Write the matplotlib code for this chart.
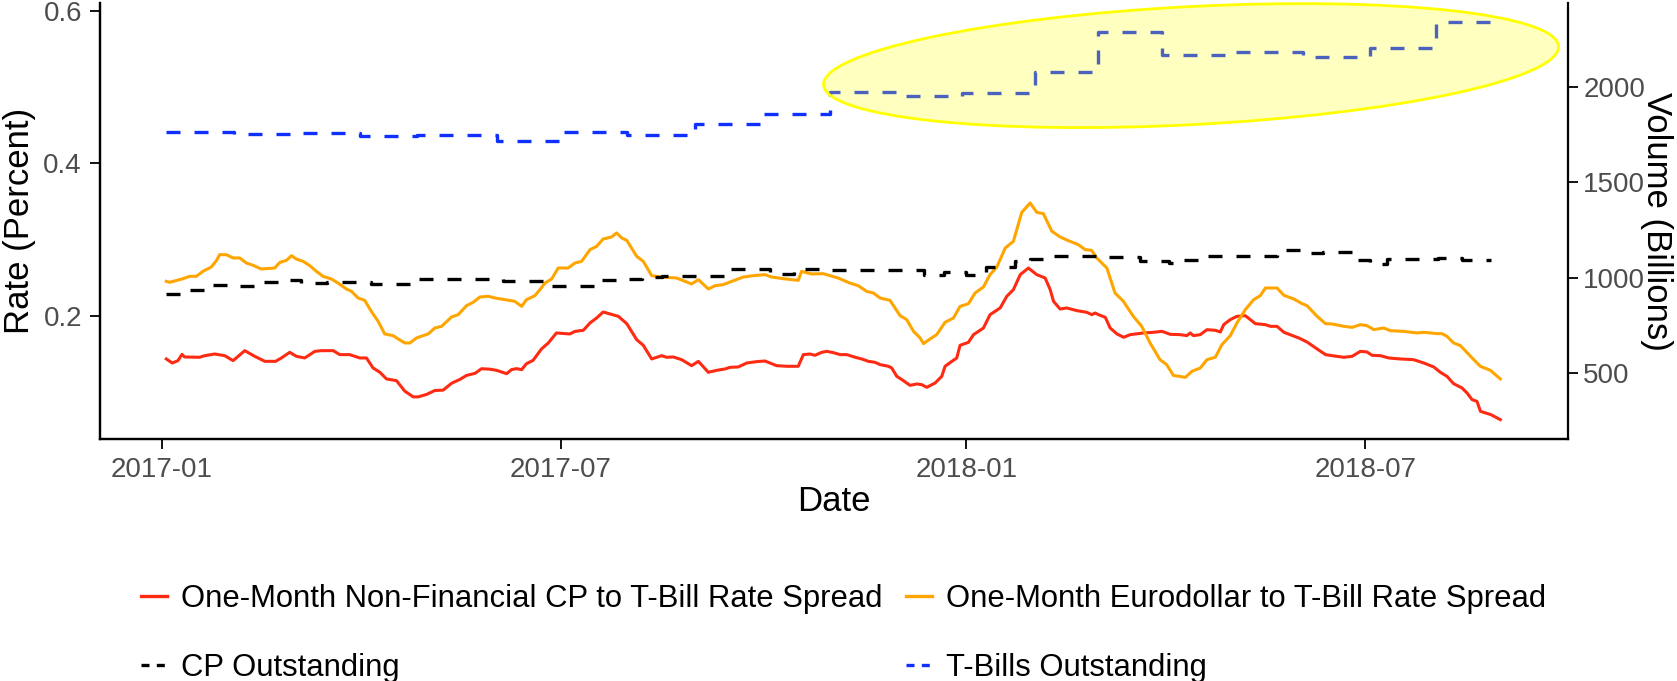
import numpy as np
import pandas as pd
import matplotlib
matplotlib.use("Agg")
import matplotlib.pyplot as plt
import matplotlib.dates as mdates
from matplotlib.patches import Ellipse
from matplotlib.lines import Line2D
from matplotlib.transforms import IdentityTransform

plt.rcParams['font.family'] = ['Liberation Sans', 'DejaVu Sans']

START = pd.Timestamp('2017-01-01')
VOL_PER_RATE = 4000  # right axis (billions) = left axis (percent) * 4000

# One-Month Non-Financial CP to T-Bill spread (days since 2017-01-01, percent)
nfcp_days = [2.1, 4.8, 7.4, 9.2, 10.4, 17.2, 19.5, 24.1, 28.6, 32.4, 37.7, 42.2, 46.8, 51.7,
             54.3, 58.1, 61.1, 64.9, 69.5, 72.5, 77.8, 80.8, 85.3, 89.9, 92.9, 95.9, 99, 102,
             106.5, 110.3, 114.1, 116.4, 120.1, 123.9, 127.7, 131.5, 135.3, 138.3, 142.1, 145.1,
             148.9, 151.9, 156.5, 158.7, 161, 163.3, 165.5, 168.5, 172.3, 175.4, 179.1, 185.2,
             187.5, 191.3, 194.3, 197.3, 200.3, 203.4, 207.2, 211, 215.5, 218.5, 222.3, 226.8,
             229.1, 232.1, 235.9, 240.4, 243.5, 248, 251.8, 255.6, 257.8, 261.6, 265.4, 269.9,
             273.7, 276, 279, 283.5, 288.8, 291.1, 294.1, 296.4, 299.4, 301.7, 304.7, 307.8,
             310.8, 314.6, 317.6, 320.6, 323.6, 325.9, 329.7, 331.2, 333.5, 335.8, 339.5, 342.6,
             344.8, 347.1, 350.9, 353.9, 355.4, 358.5, 360.7, 362.2, 366, 368.3, 372.8, 375.8,
             380.4, 383.4, 386.4, 389.5, 393.2, 397, 400.8, 403.1, 404.6, 407.6, 410.6, 415.2,
             419.7, 422, 423.5, 425, 428.1, 430.3, 433.4, 436.4, 439.4, 445.5, 450, 453.8, 457.6,
             462.1, 465.1, 466.6, 468.1, 471.2, 474.2, 478, 480.3, 481.8, 484.8, 487.8, 491.6,
             496.2, 500.7, 503, 506, 509.1, 512.8, 515.9, 519.6, 524.2, 528, 531, 536.3, 540.1,
             543.8, 546.8, 549.1, 552.9, 556.7, 561.9, 567.9, 572.6, 577.1, 580.1, 583.1, 586.1,
             589.9, 592.2, 594.5, 596.7, 598.3, 603, 607.3]
nfcp_spread = [.1432, .1379, .141, .1492, .1458, .1454, .1475, .1497, .1475, .141, .1541, .1467,
               .1401, .1401, .1445, .1519, .1467, .1445, .1532, .1541, .1541, .1489, .1489, .1445,
               .1445, .1314, .1257, .117, .1148, .101, .0935, .0935, .0966, .1018, .1023, .1113,
               .1164, .1216, .1243, .1304, .1298, .1283, .1239, .1292, .1305, .1292, .137, .1414,
               .1563, .1642, .1773, .176, .1794, .1808, .1904, .1969, .2048, .2022, .1991, .1895,
               .1685, .1611, .1432, .1475, .1454, .1458, .1423, .1344, .1401, .1257, .1283, .1301,
               .1322, .1327, .1379, .1397, .1405, .1379, .1344, .1336, .1336, .1489, .1497, .148,
               .1519, .1532, .1515, .1489, .1489, .1454, .1432, .1401, .1388, .1358, .1336, .1314,
               .1204, .1161, .1086, .1104, .1095, .106, .1117, .1204, .1336, .1401, .1445, .1611,
               .165, .1751, .1838, .2013, .2101, .2254, .2341, .2538, .2625, .2538, .2494, .2341,
               .2188, .2087, .2101, .2066, .2044, .2013, .2035, .2013, .1978, .1838, .176, .1716,
               .1751, .1773, .1782, .1794, .1755, .1751, .1738, .1773, .1738, .1751, .1816, .1808,
               .1786, .1882, .1948, .1991, .2, .1895, .1882, .186, .186, .1782, .1742, .1707,
               .1655, .1563, .1489, .1475, .1454, .1467, .1532, .1524, .148, .1475, .1445, .1432,
               .1423, .1379, .1327, .1257, .1204, .1108, .1052, .0986, .0898, .0876, .0745, .0702,
               .0636]

# One-Month Eurodollar to T-Bill spread (days since 2017-01-01, percent)
euro_days = [2.1, 3.6, 9.7, 12.7, 15.7, 18.7, 22.5, 24.8, 26.3, 29.3, 32.4, 35.4, 38.4, 41.5,
             45.2, 51.3, 53.6, 56.6, 58.9, 61.1, 64.2, 67.2, 70.2, 73.2, 77, 80, 83.8, 86.1,
             89.1, 92.1, 95.1, 98.2, 101.2, 105, 107.3, 110.3, 112.6, 115.6, 118.6, 120.9,
             123.9, 127, 131.5, 134.5, 138.3, 141.3, 144.4, 148.2, 151.2, 155.7, 160.2, 163.3,
             165.5, 169.3, 171.6, 173.9, 176.9, 179.9, 184.4, 187.5, 190.5, 194.3, 197.3, 200.3,
             204.1, 206.4, 208.7, 211, 215.5, 218.5, 222.3, 226.8, 233.6, 236.7, 240.4, 243.5,
             248, 251.1, 254.8, 258.6, 263.9, 268.4, 273.7, 276.7, 282, 288.8, 290.3, 294.8,
             300.1, 303.2, 306.9, 312.2, 316, 319.8, 322.9, 325.9, 330.4, 332.7, 335, 338,
             341.1, 344.1, 345.6, 348.6, 351.6, 355.4, 359.2, 362.2, 366, 369, 372.8, 375.8,
             378.9, 382.7, 386.4, 390.2, 394, 397, 400, 403.8, 407.6, 411.3, 415.9, 418.9,
             421.9, 424.2, 428.8, 432.5, 436.3, 440.8, 444.6, 448.4, 452.9, 455.9, 459, 464.4,
             467.4, 471.2, 474.2, 478, 481, 484.8, 487.8, 491.6, 495.4, 498.4, 500.7, 506,
             509.1, 513.6, 517.4, 519.6, 524.2, 528, 531, 536.3, 540.1, 543.8, 546.8, 549.9,
             554.4, 557.4, 563.5, 569.5, 572.6, 578.6, 580.8, 583.1, 586.1, 589.2, 594.5,
             598.2, 602.8, 607.3]
euro_spread = [.245, .2437, .2485, .2516, .2516, .2581, .2638, .2721, .28, .28, .2757, .2757,
               .2691, .266, .2612, .2625, .2699, .2725, .2787, .2743, .2712, .2656, .2581, .2516,
               .2481, .2428, .235, .2319, .2232, .2201, .2057, .1926, .176, .1738, .1694, .1642,
               .1642, .1707, .1738, .176, .1838, .186, .1983, .2013, .2131, .2175, .2245, .2254,
               .2232, .221, .2188, .2122, .221, .2262, .2341, .2428, .2481, .2625, .2625, .2691,
               .2712, .2865, .2909, .3006, .3032, .3085, .3019, .2988, .2778, .2712, .2525, .2507,
               .2494, .2459, .2416, .2472, .235, .2393, .2407, .245, .2507, .2525, .2538, .2507,
               .2485, .2463, .2581, .2547, .2551, .2525, .2494, .2428, .2393, .2319, .2297, .2232,
               .2201, .2101, .2, .1948, .1794, .1707, .1633, .1694, .1751, .1913, .1969, .2122,
               .2157, .2297, .2376, .2538, .2638, .2888, .2975, .3355, .3478, .3355, .3338, .3109,
               .3032, .2984, .2931, .2866, .2857, .2757, .2625, .2297, .2188, .1991, .186, .1642,
               .1423, .1358, .1216, .1191, .127, .1314, .1423, .1454, .162, .1738, .1904, .2079,
               .221, .2262, .2363, .2363, .2267, .2219, .2157, .2131, .1991, .1895, .1891, .186,
               .1847, .1882, .1869, .1817, .1838, .1803, .1794, .1773, .1782, .1764, .1764, .1729,
               .1642, .1607, .1445, .1336, .1283, .117]

# CP outstanding, billions (day the level starts)
cp_days = [2, 9, 20, 31, 42, 53, 63, 75, 95, 114, 155, 177, 197, 206, 218, 227, 258, 276,
           287, 303, 346, 355, 365, 374, 387, 394, 405, 429, 444, 457, 462, 473, 494, 506,
           517, 527, 541, 548, 556, 579, 590]
cp_volume = [914, 936, 963, 957, 977, 989, 971, 975, 966, 994, 982, 957, 989, 994, 1001, 1010,
             1045, 1019, 1045, 1038, 1015, 1027, 1012, 1054, 1085, 1097, 1111, 1106, 1088, 1076,
             1094, 1111, 1115, 1143, 1129, 1132, 1094, 1071, 1097, 1101, 1092]
cp_end = 603

# T-Bills outstanding, billions (day the level starts)
tbill_days = [2, 33, 58, 90, 116, 152, 181, 211, 242, 272, 303, 336, 363, 396, 425, 454,
              485, 518, 548, 578]
tbill_volume = [1762, 1753, 1756, 1741, 1748, 1718, 1762, 1750, 1806, 1858, 1972, 1955, 1969,
                2078, 2288, 2169, 2184, 2157, 2204, 2341]
tbill_end = 606

# highlighted region (centre of the ellipse)
highlight_day = 467
highlight_volume = 2112

RED = '#FF2A12'
ORANGE = '#FFA500'
BLUE = '#1030FF'


def to_dates(days):
    return START + pd.to_timedelta(np.asarray(days, dtype=float), unit='D')


def steps(days, values, end):
    """ adds the last level up to the end day """
    return to_dates(list(days) + [end]), list(values) + [values[-1]]


fig = plt.figure(figsize=(16.77, 6.81), dpi=100)
ax = fig.add_axes([0.0596, 0.3549, 0.8754, 0.6411])
ax2 = ax.twinx()

ax.plot(to_dates(nfcp_days), nfcp_spread, color=RED, lw=2.2)
ax.plot(to_dates(euro_days), euro_spread, color=ORANGE, lw=2.2)
x, y = steps(cp_days, cp_volume, cp_end)
ax2.plot(x, y, color='black', lw=2.4, dashes=(4.2, 4.2), drawstyle='steps-post')
x, y = steps(tbill_days, tbill_volume, tbill_end)
ax2.plot(x, y, color=BLUE, lw=2.4, dashes=(4.2, 4.2), drawstyle='steps-post')

ylo, yhi = 0.0378, 0.6105
ax.set_ylim(ylo, yhi)
ax2.set_ylim(ylo * VOL_PER_RATE, yhi * VOL_PER_RATE)
ax.set_xlim(pd.Timestamp('2016-12-04'), pd.Timestamp('2018-10-01'))

ax.set_yticks([0.2, 0.4, 0.6])
ax2.set_yticks([500, 1000, 1500, 2000])
ax.set_xticks(pd.to_datetime(['2017-01-01', '2017-07-01', '2018-01-01', '2018-07-01']))
ax.xaxis.set_major_formatter(mdates.DateFormatter('%Y-%m'))

for a in (ax, ax2):
    a.spines['top'].set_visible(False)
    for s in a.spines.values():
        s.set_linewidth(1.6)
    a.tick_params(length=7, width=1.3, labelsize=20, labelcolor='#4D4D4D')
ax.spines['right'].set_visible(False)
ax.tick_params(axis='x', pad=6)
ax.tick_params(axis='y', pad=6)
ax2.tick_params(axis='y', pad=4)

ax.set_xlabel('Date', fontsize=25, labelpad=1)
ax.set_ylabel('Rate (Percent)', fontsize=25, va='center')
ax2.set_ylabel('Volume (Billions)', fontsize=25, rotation=270, va='center')
ax.yaxis.set_label_coords(-0.0545, 0.5)
ax2.yaxis.set_label_coords(1.0606, 0.5)

# yellow ellipse over the T-Bill run-up
fig.canvas.draw()
cx, cy = ax2.transData.transform((mdates.date2num(START + pd.Timedelta(days=highlight_day)),
                                  highlight_volume))
ell = Ellipse((cx, cy), width=736, height=118, angle=3, transform=IdentityTransform(),
              facecolor=(1, 1, 0, 0.25), edgecolor='#FFFF00', lw=2, clip_on=False, zorder=5)
ax2.add_artist(ell)

# legend keys with shorter dashes, as in the original
handles = [Line2D([], [], color=RED, lw=2.4),
           Line2D([], [], color='black', lw=2.4, dashes=(2.4, 2.2)),
           Line2D([], [], color=ORANGE, lw=2.4),
           Line2D([], [], color=BLUE, lw=2.4, dashes=(2.4, 2.2))]
labels = ['One-Month Non-Financial CP to T-Bill Rate Spread', 'CP Outstanding',
          'One-Month Eurodollar to T-Bill Rate Spread', 'T-Bills Outstanding']
fig.legend(handles, labels, loc='upper center', bbox_to_anchor=(0.503, 0.183),
           ncol=2, frameon=False, fontsize=22.3, handlelength=0.85, handletextpad=0.45,
           columnspacing=0.75, labelspacing=1.25)

fig.savefig('out.png', dpi=100)
